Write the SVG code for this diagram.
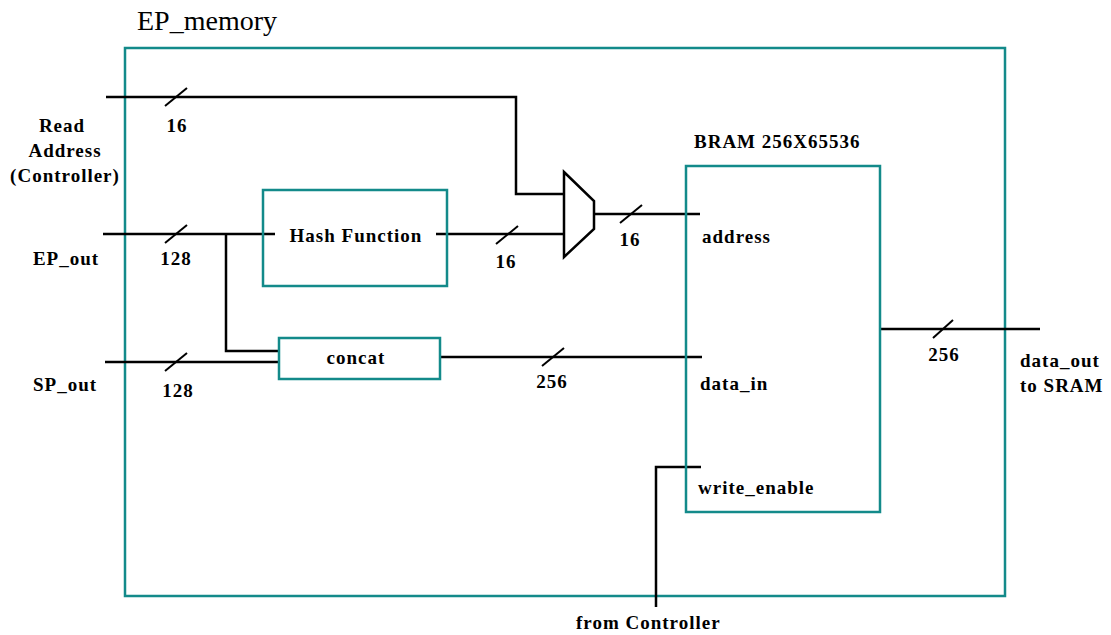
<svg xmlns="http://www.w3.org/2000/svg" width="1111" height="635" viewBox="0 0 1111 635">
<style>
.box{fill:none;stroke:#138a8a;stroke-width:2.5}
.w{fill:none;stroke:#000;stroke-width:2.5}
.s{stroke:#000;stroke-width:2}
text{font-family:"Liberation Serif","Times New Roman",serif;font-weight:bold;font-size:19px;letter-spacing:1px;fill:#000}
.m{text-anchor:middle}
.t{font-weight:normal;font-size:28px;letter-spacing:0}
</style>
<rect width="1111" height="635" fill="#fff"/>
<g id="ep_memory">
<rect class="box" x="125" y="48" width="880" height="548"/>
<text class="t" x="137" y="30">EP_memory</text>
</g>
<g id="connectors">
<polyline class="w" points="106,97 516,97 516,194 565,194"/>
<line class="s" x1="165" y1="106" x2="187" y2="88"/>
<line class="w" x1="103" y1="234" x2="275" y2="234"/>
<line class="s" x1="165" y1="243" x2="187" y2="225"/>
<polyline class="w" points="226,234 226,351 279,351"/>
<line class="w" x1="105" y1="362" x2="279" y2="362"/>
<line class="s" x1="165" y1="371" x2="187" y2="353"/>
<line class="w" x1="436" y1="234" x2="565" y2="234"/>
<line class="s" x1="496" y1="244" x2="518" y2="226"/>
<line class="w" x1="594" y1="214" x2="700" y2="214"/>
<line class="s" x1="620" y1="223" x2="642" y2="205"/>
<line class="w" x1="440" y1="357" x2="702" y2="357"/>
<line class="s" x1="542" y1="366" x2="564" y2="348"/>
<line class="w" x1="880" y1="329" x2="1040" y2="329"/>
<line class="s" x1="933" y1="338" x2="953" y2="320"/>
<polyline class="w" points="701,467 656,467 656,607"/>
</g>
<g id="labels">
<text class="m" x="62" y="132">Read</text>
<text class="m" x="65" y="157">Address</text>
<text class="m" x="65" y="182">(Controller)</text>
<text class="m" x="177" y="132">16</text>
<text class="m" x="66" y="265">EP_out</text>
<text class="m" x="176" y="265">128</text>
<text class="m" x="65" y="391">SP_out</text>
<text class="m" x="178" y="397">128</text>
<text class="m" x="506" y="268">16</text>
<text class="m" x="630" y="246">16</text>
<text class="m" x="552" y="388">256</text>
<text class="m" x="944" y="361">256</text>
<text x="1020" y="367">data_out</text>
<text x="1020" y="392">to SRAM</text>
<text x="576" y="629">from Controller</text>
</g>
<g id="hash">
<rect class="box" x="263" y="190" width="184" height="96"/>
<text class="m" x="356" y="242">Hash Function</text>
</g>
<g id="concat">
<rect class="box" x="279" y="338" width="161" height="41"/>
<text class="m" x="356" y="364">concat</text>
</g>
<g id="mux">
<polygon class="w" points="564,172 594,201 594,229 564,257"/>
</g>
<g id="bram">
<rect class="box" x="686" y="166" width="194" height="346"/>
<text x="694" y="148">BRAM 256X65536</text>
<text x="702" y="243">address</text>
<text x="700" y="390">data_in</text>
<text x="698" y="494">write_enable</text>
</g>
</svg>
